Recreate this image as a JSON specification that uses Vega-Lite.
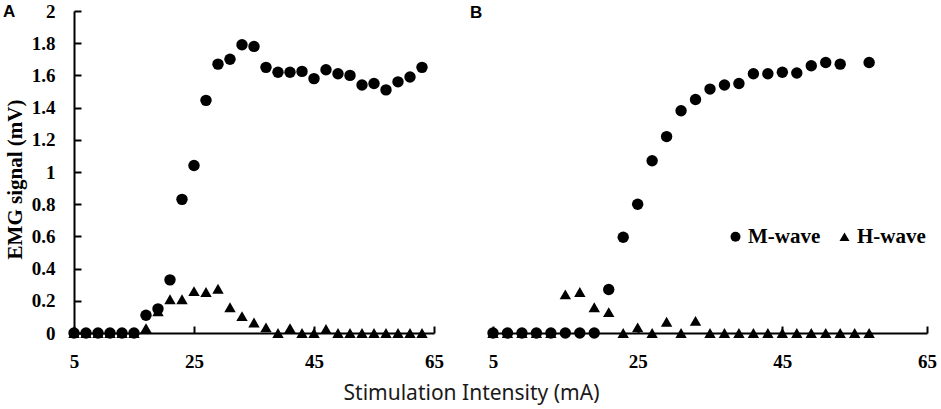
{
  "$schema": "https://vega.github.io/schema/vega-lite/v6.json",
  "description": "M-wave and H-wave recruitment curves, panels A and B.",
  "autosize": {"type": "pad"},
  "padding": {"left": 3, "top": 2, "right": 0, "bottom": 4},
  "background": "white",
  "bounds": "flush",
  "spacing": 59,
  "datasets": {
    "panelA": [
      {"current": 5, "wave": "M-wave", "emg": 0},
      {"current": 7, "wave": "M-wave", "emg": 0},
      {"current": 9, "wave": "M-wave", "emg": 0},
      {"current": 11, "wave": "M-wave", "emg": 0},
      {"current": 13, "wave": "M-wave", "emg": 0},
      {"current": 15, "wave": "M-wave", "emg": 0},
      {"current": 17, "wave": "M-wave", "emg": 0.11},
      {"current": 19, "wave": "M-wave", "emg": 0.15},
      {"current": 21, "wave": "M-wave", "emg": 0.33},
      {"current": 23, "wave": "M-wave", "emg": 0.83},
      {"current": 25, "wave": "M-wave", "emg": 1.04},
      {"current": 27, "wave": "M-wave", "emg": 1.445},
      {"current": 29, "wave": "M-wave", "emg": 1.67},
      {"current": 31, "wave": "M-wave", "emg": 1.7},
      {"current": 33, "wave": "M-wave", "emg": 1.79},
      {"current": 35, "wave": "M-wave", "emg": 1.78},
      {"current": 37, "wave": "M-wave", "emg": 1.65},
      {"current": 39, "wave": "M-wave", "emg": 1.62},
      {"current": 41, "wave": "M-wave", "emg": 1.62},
      {"current": 43, "wave": "M-wave", "emg": 1.625},
      {"current": 45, "wave": "M-wave", "emg": 1.58},
      {"current": 47, "wave": "M-wave", "emg": 1.635},
      {"current": 49, "wave": "M-wave", "emg": 1.61},
      {"current": 51, "wave": "M-wave", "emg": 1.6},
      {"current": 53, "wave": "M-wave", "emg": 1.54},
      {"current": 55, "wave": "M-wave", "emg": 1.55},
      {"current": 57, "wave": "M-wave", "emg": 1.51},
      {"current": 59, "wave": "M-wave", "emg": 1.56},
      {"current": 61, "wave": "M-wave", "emg": 1.59},
      {"current": 63, "wave": "M-wave", "emg": 1.65},
      {"current": 5, "wave": "H-wave", "emg": 0},
      {"current": 7, "wave": "H-wave", "emg": 0},
      {"current": 9, "wave": "H-wave", "emg": 0},
      {"current": 11, "wave": "H-wave", "emg": 0},
      {"current": 13, "wave": "H-wave", "emg": 0},
      {"current": 15, "wave": "H-wave", "emg": 0},
      {"current": 17, "wave": "H-wave", "emg": 0.03},
      {"current": 19, "wave": "H-wave", "emg": 0.135},
      {"current": 21, "wave": "H-wave", "emg": 0.21},
      {"current": 23, "wave": "H-wave", "emg": 0.21},
      {"current": 25, "wave": "H-wave", "emg": 0.26},
      {"current": 27, "wave": "H-wave", "emg": 0.255},
      {"current": 29, "wave": "H-wave", "emg": 0.275},
      {"current": 31, "wave": "H-wave", "emg": 0.16},
      {"current": 33, "wave": "H-wave", "emg": 0.105},
      {"current": 35, "wave": "H-wave", "emg": 0.065},
      {"current": 37, "wave": "H-wave", "emg": 0.035},
      {"current": 39, "wave": "H-wave", "emg": 0},
      {"current": 41, "wave": "H-wave", "emg": 0.03},
      {"current": 43, "wave": "H-wave", "emg": 0},
      {"current": 45, "wave": "H-wave", "emg": 0},
      {"current": 47, "wave": "H-wave", "emg": 0.025},
      {"current": 49, "wave": "H-wave", "emg": 0},
      {"current": 51, "wave": "H-wave", "emg": 0},
      {"current": 53, "wave": "H-wave", "emg": 0},
      {"current": 55, "wave": "H-wave", "emg": 0},
      {"current": 57, "wave": "H-wave", "emg": 0},
      {"current": 59, "wave": "H-wave", "emg": 0},
      {"current": 61, "wave": "H-wave", "emg": 0},
      {"current": 63, "wave": "H-wave", "emg": 0}
    ],
    "panelB": [
      {"current": 5, "wave": "M-wave", "emg": 0},
      {"current": 7, "wave": "M-wave", "emg": 0},
      {"current": 9, "wave": "M-wave", "emg": 0},
      {"current": 11, "wave": "M-wave", "emg": 0},
      {"current": 13, "wave": "M-wave", "emg": 0},
      {"current": 15, "wave": "M-wave", "emg": 0},
      {"current": 17, "wave": "M-wave", "emg": 0},
      {"current": 19, "wave": "M-wave", "emg": 0},
      {"current": 21, "wave": "M-wave", "emg": 0.27},
      {"current": 23, "wave": "M-wave", "emg": 0.595},
      {"current": 25, "wave": "M-wave", "emg": 0.8},
      {"current": 27, "wave": "M-wave", "emg": 1.07},
      {"current": 29, "wave": "M-wave", "emg": 1.22},
      {"current": 31, "wave": "M-wave", "emg": 1.38},
      {"current": 33, "wave": "M-wave", "emg": 1.45},
      {"current": 35, "wave": "M-wave", "emg": 1.515},
      {"current": 37, "wave": "M-wave", "emg": 1.54},
      {"current": 39, "wave": "M-wave", "emg": 1.55},
      {"current": 41, "wave": "M-wave", "emg": 1.61},
      {"current": 43, "wave": "M-wave", "emg": 1.61},
      {"current": 45, "wave": "M-wave", "emg": 1.62},
      {"current": 47, "wave": "M-wave", "emg": 1.615},
      {"current": 49, "wave": "M-wave", "emg": 1.66},
      {"current": 51, "wave": "M-wave", "emg": 1.68},
      {"current": 53, "wave": "M-wave", "emg": 1.67},
      {"current": 57, "wave": "M-wave", "emg": 1.68},
      {"current": 5, "wave": "H-wave", "emg": 0},
      {"current": 7, "wave": "H-wave", "emg": 0},
      {"current": 9, "wave": "H-wave", "emg": 0},
      {"current": 11, "wave": "H-wave", "emg": 0},
      {"current": 13, "wave": "H-wave", "emg": 0},
      {"current": 15, "wave": "H-wave", "emg": 0.24},
      {"current": 17, "wave": "H-wave", "emg": 0.255},
      {"current": 19, "wave": "H-wave", "emg": 0.16},
      {"current": 21, "wave": "H-wave", "emg": 0.13},
      {"current": 23, "wave": "H-wave", "emg": 0},
      {"current": 25, "wave": "H-wave", "emg": 0.035},
      {"current": 27, "wave": "H-wave", "emg": 0},
      {"current": 29, "wave": "H-wave", "emg": 0.07},
      {"current": 31, "wave": "H-wave", "emg": 0},
      {"current": 33, "wave": "H-wave", "emg": 0.075},
      {"current": 35, "wave": "H-wave", "emg": 0},
      {"current": 37, "wave": "H-wave", "emg": 0},
      {"current": 39, "wave": "H-wave", "emg": 0},
      {"current": 41, "wave": "H-wave", "emg": 0},
      {"current": 43, "wave": "H-wave", "emg": 0},
      {"current": 45, "wave": "H-wave", "emg": 0},
      {"current": 47, "wave": "H-wave", "emg": 0},
      {"current": 49, "wave": "H-wave", "emg": 0},
      {"current": 51, "wave": "H-wave", "emg": 0},
      {"current": 53, "wave": "H-wave", "emg": 0},
      {"current": 55, "wave": "H-wave", "emg": 0},
      {"current": 57, "wave": "H-wave", "emg": 0}
    ]
  },
  "hconcat": [
    {
      "width": 360,
      "height": 322,
      "data": {"name": "panelA"},
      "title": {"text": "A", "anchor": "start", "frame": "group", "dx": -71, "dy": 19, "offset": 0},
      "mark": {"type": "point", "filled": true, "color": "black", "opacity": 1, "size": 130},
      "encoding": {
        "x": {
          "field": "current", "type": "quantitative",
          "scale": {"domain": [5, 65], "nice": false},
          "axis": {
            "values": [5, 25, 45, 65],
            "title": "Stimulation Intensity (mA)",
            "titleX": 397, "titleY": 60
          }
        },
        "y": {
          "field": "emg", "type": "quantitative",
          "scale": {"domain": [0, 2], "nice": false},
          "axis": {
            "values": [0, 0.2, 0.4, 0.6, 0.8, 1, 1.2, 1.4, 1.6, 1.8, 2],
            "format": "~g",
            "title": "EMG signal (mV)",
            "titlePadding": 6,
            "titleY": 168
          }
        },
        "shape": {
          "field": "wave", "type": "nominal",
          "scale": {"domain": ["M-wave", "H-wave"], "range": ["circle", "triangle-up"]},
          "legend": null
        }
      }
    },
    {
      "width": 434,
      "height": 322,
      "data": {"name": "panelB"},
      "title": {"text": "B", "anchor": "start", "frame": "group", "dx": -23, "dy": 11, "offset": 0},
      "mark": {"type": "point", "filled": true, "color": "black", "opacity": 1, "size": 130},
      "encoding": {
        "x": {
          "field": "current", "type": "quantitative",
          "scale": {"domain": [5, 65], "nice": false},
          "axis": {"values": [5, 25, 45, 65], "title": null}
        },
        "y": {
          "field": "emg", "type": "quantitative",
          "scale": {"domain": [0, 2], "nice": false},
          "axis": null
        },
        "shape": {
          "field": "wave", "type": "nominal",
          "scale": {"domain": ["M-wave", "H-wave"], "range": ["circle", "triangle-up"]},
          "legend": {
            "title": null,
            "orient": "none",
            "legendX": 232,
            "legendY": 215,
            "direction": "horizontal",
            "symbolSize": 100,
            "symbolFillColor": "black",
            "symbolStrokeWidth": 0,
            "labelFont": "Liberation Serif",
            "labelFontWeight": "bold",
            "labelFontSize": 21,
            "labelColor": "black",
            "labelOffset": 2,
            "columnPadding": 13
          }
        }
      }
    }
  ],
  "resolve": {"legend": {"shape": "independent"}},
  "config": {
    "view": {"stroke": null},
    "title": {"font": "Liberation Sans", "fontSize": 17, "fontWeight": "bold", "color": "black", "baseline": "bottom"},
    "axis": {
      "grid": false,
      "domainColor": "black",
      "domainWidth": 2,
      "tickColor": "black",
      "tickWidth": 2,
      "tickSize": -7,
      "labelPadding": 26,
      "labelFlush": false,
      "labelFont": "Liberation Serif",
      "labelFontWeight": "bold",
      "labelFontSize": 19,
      "labelColor": "black",
      "titleColor": "black"
    },
    "axisY": {
      "titleFont": "Liberation Serif",
      "titleFontWeight": "bold",
      "titleFontSize": 21
    },
    "axisX": {
      "titleFont": "Noto Sans",
      "titleFontWeight": "normal",
      "titleFontSize": 21,
      "titleBaseline": "middle",
      "titleColor": "#1a1a1a"
    }
  }
}
